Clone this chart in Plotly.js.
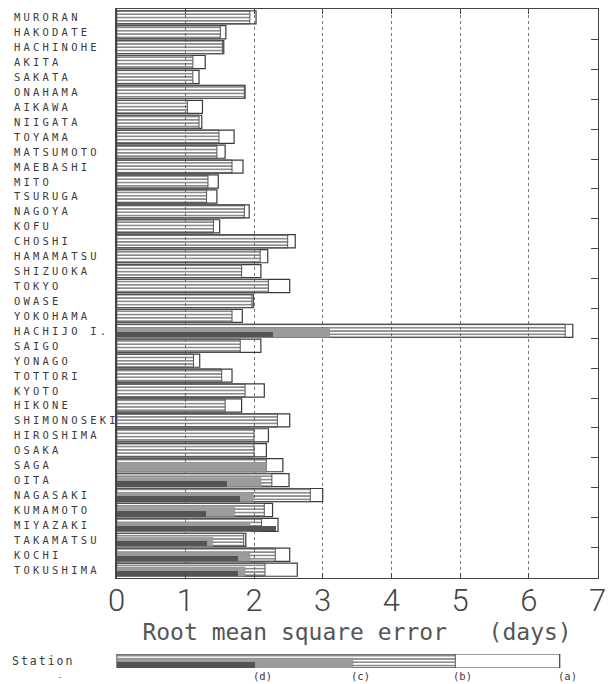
<!DOCTYPE html>
<html>
<head>
<meta charset="utf-8">
<script src="https://cdn.plot.ly/plotly-3.0.1.min.js"></script>
<style>html,body{margin:0;padding:0;background:#fff;}</style>
</head>
<body>
<div id="chart" style="width:612px;height:684px;"></div>
<script>
const stations = ["MURORAN","HAKODATE","HACHINOHE","AKITA","SAKATA","ONAHAMA","AIKAWA","NIIGATA","TOYAMA","MATSUMOTO","MAEBASHI","MITO","TSURUGA","NAGOYA","KOFU","CHOSHI","HAMAMATSU","SHIZUOKA","TOKYO","OWASE","YOKOHAMA","HACHIJO I.","SAIGO","YONAGO","TOTTORI","KYOTO","HIKONE","SHIMONOSEKI","HIROSHIMA","OSAKA","SAGA","OITA","NAGASAKI","KUMAMOTO","MIYAZAKI","TAKAMATSU","KOCHI","TOKUSHIMA"];
// (a) outer white box
const rmsA = [2.03,1.59,1.56,1.29,1.20,1.87,1.25,1.24,1.71,1.58,1.84,1.48,1.46,1.93,1.50,2.60,2.20,2.10,2.52,1.99,1.83,6.64,2.10,1.21,1.68,2.15,1.82,2.52,2.21,2.18,2.42,2.51,3.00,2.27,2.35,1.88,2.52,2.63];
// (b) hatched
const rmsB = [1.94,1.51,1.54,1.11,1.11,1.86,1.03,1.20,1.49,1.46,1.68,1.33,1.31,1.86,1.41,2.49,2.09,1.82,2.21,1.97,1.68,6.53,1.80,1.12,1.53,1.87,1.58,2.34,2.00,2.00,2.18,2.26,2.82,2.15,2.11,1.85,2.31,2.16];
// (c) gray
const rmsC = [null,null,null,null,null,null,null,null,null,null,null,null,null,null,null,null,null,null,null,null,null,3.10,null,null,null,null,null,null,null,null,2.18,2.10,1.99,1.72,1.94,1.40,1.94,1.87];
// (d) dark
const rmsD = [null,null,null,null,null,null,null,null,null,null,null,null,null,null,null,null,null,null,null,null,null,2.28,null,null,null,null,null,null,null,null,null,1.61,1.80,1.30,2.32,1.31,1.77,1.77];
const xTicks = [0,1,2,3,4,5,6,7];
const legendKeys = ["(d)","(c)","(b)","(a)"];
const legendVals = [2.02,3.44,4.93,6.45];
const xTitle = "Root mean square error\u00a0\u00a0\u00a0(days)";

const FULL = 0.88, HALF_C = 0.62, HALF_D = 0.36;
const hatch = {shape:"-", fgcolor:"#4e4e4e", bgcolor:"rgba(0,0,0,0)", size:3.3, solidity:0.33, fillmode:"replace"};

function mk(x, y, kind, xa, ya, main) {
  const base = {type:"bar", orientation:"h", x:x, y:y, xaxis:xa, yaxis:ya, showlegend:false, hoverinfo:"skip", opacity:1};
  const H = main ? FULL : 1.0;
  const half = H/2;
  if (kind === "a") return Object.assign(base, {width:H, offset:-half, marker:{color:"rgba(0,0,0,0)", line:{color:"#3a3a3a", width:1.2}}});
  if (kind === "b") return Object.assign(base, {width:H, offset:-half, marker:{color:"rgba(0,0,0,0)", pattern:hatch, line:{color:"#555", width:1}}});
  if (kind === "c") {
    const w = main ? HALF_C : 0.7;
    return Object.assign(base, {width:w, offset: main ? half - w : -0.5, marker:{color:"#9c9c9c", line:{color:"#888", width:0.5}}});
  }
  const w = main ? HALF_D : 0.4;
  return Object.assign(base, {width:w, offset: main ? half - w : -0.5, marker:{color:"#545454", line:{width:0}}});
}

const traces = [
  mk(rmsA, stations, "a", "x", "y", true),
  mk(rmsB, stations, "b", "x", "y", true),
  mk(rmsC, stations, "c", "x", "y", true),
  mk(rmsD, stations, "d", "x", "y", true),
  mk([legendVals[3]], [0], "a", "x2", "y2", false),
  mk([legendVals[2]], [0], "b", "x2", "y2", false),
  mk([legendVals[1]], [0], "c", "x2", "y2", false),
  mk([legendVals[0]], [0], "d", "x2", "y2", false)
];

const W = 612, Hh = 684;
const xd = [116.6/W, 597.5/W];
const annotations = stations.map(s => ({
  text: '<span style="letter-spacing:3.2px">' + s + '</span>',
  xref:"paper", x: 12/W, xanchor:"left", yref:"y", y:s, yanchor:"middle",
  showarrow:false, font:{family:"DejaVu Sans Mono", size:10.5, color:"#3a3a3a"}
}));
legendKeys.forEach((k,i) => annotations.push({
  text:k, xref:"x2", x:legendVals[i], xanchor:"left", xshift:-4, yref:"paper", y:1-676/Hh, yanchor:"middle",
  showarrow:false, font:{family:"DejaVu Sans Mono", size:10.5, color:"#3a3a3a"}
}));
annotations.push({text:'<span style="letter-spacing:2px">Station</span>', xref:"paper", x:10/W, xanchor:"left", yref:"paper", y:1-661/Hh, yanchor:"middle", showarrow:false, font:{family:"DejaVu Sans Mono", size:11.5, color:"#3a3a3a"}});
annotations.push({text:"-", xref:"paper", x:55/W, xanchor:"left", yref:"paper", y:1-677/Hh, yanchor:"middle", showarrow:false, font:{family:"DejaVu Sans Mono", size:9, color:"#777"}});

const layout = {
  width:W, height:Hh, margin:{l:0,r:0,t:0,b:0}, paper_bgcolor:"#fff", plot_bgcolor:"#fff",
  barmode:"overlay", bargap:0, showlegend:false,
  xaxis:{domain:xd, range:[0,7], tickvals:xTicks, ticktext:xTicks.map(String), showgrid:true, gridcolor:"#777", griddash:"dot", gridwidth:1,
    zeroline:false, showline:true, linecolor:"#444", linewidth:1.5, mirror:"ticks", ticks:"inside", ticklen:5, tickcolor:"#444",
    tickfont:{family:"Roboto", weight:300, size:31, color:"#444"}, ticklabelstandoff:-5,
    title:{text:xTitle, font:{family:"DejaVu Sans Mono", size:23, color:"#555"}, standoff:3}},
  yaxis:{domain:[1-577.7/Hh, 1-9.3/Hh], type:"category", categoryorder:"array", categoryarray:stations, autorange:"reversed",
    showticklabels:false, side:"right", ticks:"inside", ticklen:7, tickcolor:"#444", tickson:"boundaries",
    showgrid:false, zeroline:false, showline:true, linecolor:"#444", linewidth:1.5, mirror:true},
  xaxis2:{domain:xd, range:[0,7], anchor:"y2", visible:false},
  yaxis2:{domain:[1-668/Hh, 1-654/Hh], range:[-0.5,0.5], anchor:"x2", visible:false},
  annotations:annotations
};
Plotly.newPlot("chart", traces, layout, {staticPlot:true, displayModeBar:false});
</script>
</body>
</html>
